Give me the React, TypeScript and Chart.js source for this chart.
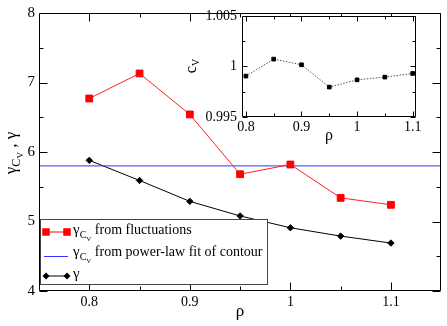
import React, { useEffect, useRef } from 'react';
import { Chart, registerables } from 'chart.js';

Chart.register(...registerables);

// ---- data ----
const rho = [0.8, 0.85, 0.9, 0.95, 1.0, 1.05, 1.1];
const gammaCvFluct = [6.77, 7.13, 6.54, 5.68, 5.82, 5.34, 5.24];
const gammaVals = [5.88, 5.59, 5.29, 5.08, 4.91, 4.79, 4.69];
const gammaCvFit = 5.8;
const cvVals = [0.99905, 1.00073, 1.00017, 0.99796, 0.99868, 0.99895, 0.99931];

const mainXTicks = [0.8, 0.9, 1.0, 1.1];
const mainXMinor = [0.85, 0.95, 1.05];
const mainYTicks = [4, 5, 6, 7, 8];
const mainYMinor = [4.5, 5.5, 6.5, 7.5];
const insetXTicks = [0.8, 0.9, 1.0, 1.1];
const insetXMinor = [0.85, 0.95, 1.05];
const insetYTicks = [0.995, 1.0, 1.005];
const insetYMinor = [0.9975, 1.0025];

const SERIF = '"Liberation Serif", "Times New Roman", serif';
const fmt = (v: number) => String(+Number(v).toFixed(4));

type Part = [string, number, number];

function richWidth(ctx: CanvasRenderingContext2D, parts: Part[]) {
  let w = 0;
  for (const [t, s] of parts) {
    ctx.font = `${s}px ${SERIF}`;
    w += ctx.measureText(t).width;
  }
  return w;
}
function drawRich(ctx: CanvasRenderingContext2D, parts: Part[], x: number, y: number) {
  let cx = x;
  ctx.textBaseline = 'alphabetic';
  ctx.textAlign = 'left';
  for (const [t, s, dy] of parts) {
    ctx.font = `${s}px ${SERIF}`;
    ctx.fillText(t, cx, y + dy);
    cx += ctx.measureText(t).width;
  }
}

function drawFrameTicks(chart: any, xMajor: number[], xMinor: number[], yMajor: number[], yMinor: number[], maj: number, min: number) {
  const ctx: CanvasRenderingContext2D = chart.ctx;
  const a = chart.chartArea;
  const xs = chart.scales.x;
  const ys = chart.scales.y;
  ctx.save();
  ctx.strokeStyle = '#000';
  ctx.lineWidth = 1;
  ctx.beginPath();
  const L = Math.round(a.left) + 0.5;
  const R = Math.round(a.right) - 0.5;
  const T = Math.round(a.top) + 0.5;
  const B = Math.round(a.bottom) - 0.5;
  ctx.rect(L, T, R - L, B - T);
  const xt = (vals: number[], len: number) => {
    for (const v of vals) {
      const px = Math.round(xs.getPixelForValue(v)) + 0.5;
      ctx.moveTo(px, B); ctx.lineTo(px, B - len);
      ctx.moveTo(px, T); ctx.lineTo(px, T + len);
    }
  };
  const yt = (vals: number[], len: number) => {
    for (const v of vals) {
      const py = Math.round(ys.getPixelForValue(v)) + 0.5;
      ctx.moveTo(L, py); ctx.lineTo(L + len, py);
      ctx.moveTo(R, py); ctx.lineTo(R - len, py);
    }
  };
  xt(xMajor, maj); xt(xMinor, min); yt(yMajor, maj); yt(yMinor, min);
  ctx.stroke();
  ctx.restore();
}

function drawSquare(ctx: CanvasRenderingContext2D, x: number, y: number, s: number, c: string) {
  ctx.fillStyle = c;
  ctx.fillRect(x - s / 2, y - s / 2, s, s);
}
function drawDiamond(ctx: CanvasRenderingContext2D, x: number, y: number, r: number, c: string) {
  ctx.fillStyle = c;
  ctx.beginPath();
  ctx.moveTo(x - r, y); ctx.lineTo(x, y - r); ctx.lineTo(x + r, y); ctx.lineTo(x, y + r);
  ctx.closePath();
  ctx.fill();
}

const mainPlugin = {
  id: 'mainDecor',
  afterDraw(chart: any) {
    const ctx: CanvasRenderingContext2D = chart.ctx;
    const a = chart.chartArea;
    drawFrameTicks(chart, mainXTicks, mainXMinor, mainYTicks, mainYMinor, 8, 4);
    ctx.save();
    ctx.fillStyle = '#000';
    // x title
    ctx.font = `17px ${SERIF}`;
    ctx.textAlign = 'center';
    ctx.textBaseline = 'alphabetic';
    ctx.fillText('ρ', (a.left + a.right) / 2, 316);
    // y title
    const yParts: Part[] = [['γ', 17, 0], ['C', 12, 4], ['V', 9, 7], [' , γ', 17, 0]];
    const w = richWidth(ctx, yParts);
    ctx.translate(16, (a.top + a.bottom) / 2 + 1);
    ctx.rotate(-Math.PI / 2);
    drawRich(ctx, yParts, -w / 2, 0);
    ctx.restore();

    // legend
    ctx.save();
    const lx = 40.5, ly = 219.5, lw = 227, lh = 65;
    ctx.fillStyle = '#fff';
    ctx.fillRect(lx, ly, lw, lh);
    ctx.strokeStyle = '#444';
    ctx.lineWidth = 1;
    ctx.strokeRect(lx, ly, lw, lh);
    const x0 = 46, x1 = 67;
    // row 1
    ctx.strokeStyle = '#ff0000';
    ctx.beginPath(); ctx.moveTo(x0, 232); ctx.lineTo(x1, 232); ctx.stroke();
    drawSquare(ctx, x0, 232, 7.5, '#ff0000');
    drawSquare(ctx, x1, 232, 7.5, '#ff0000');
    // row 2
    ctx.strokeStyle = '#3333ff';
    ctx.beginPath(); ctx.moveTo(x0 - 2, 256.5); ctx.lineTo(x1 + 1, 256.5); ctx.stroke();
    // row 3
    ctx.strokeStyle = '#000';
    ctx.beginPath(); ctx.moveTo(x0, 276); ctx.lineTo(x1, 276); ctx.stroke();
    drawDiamond(ctx, x0, 276, 3.5, '#000');
    drawDiamond(ctx, x1, 276, 3.5, '#000');
    ctx.fillStyle = '#000';
    drawRich(ctx, [['γ', 15, 0], ['C', 10, 4], ['V', 7, 7], [' from fluctuations', 14, 0]], 73, 234);
    drawRich(ctx, [['γ', 15, 0], ['C', 10, 4], ['V', 7, 7], [' from power-law fit of contour', 14, 0]], 73, 256);
    drawRich(ctx, [['γ', 15, 0]], 73, 278);
    ctx.restore();
  },
};

const insetPlugin = {
  id: 'insetDecor',
  afterDraw(chart: any) {
    const ctx: CanvasRenderingContext2D = chart.ctx;
    const a = chart.chartArea;
    drawFrameTicks(chart, insetXTicks, insetXMinor, insetYTicks, insetYMinor, 5, 3);
    ctx.save();
    ctx.fillStyle = '#000';
    ctx.font = `16px ${SERIF}`;
    ctx.textAlign = 'center';
    ctx.textBaseline = 'alphabetic';
    ctx.fillText('ρ', (a.left + a.right) / 2, 140);
    const parts: Part[] = [['c', 16, 0], ['V', 10, 3]];
    const w = richWidth(ctx, parts);
    ctx.translate(16, 66);
    ctx.rotate(-Math.PI / 2);
    drawRich(ctx, parts, -w / 2, 0);
    ctx.restore();
  },
};

const insetBg = {
  id: 'insetBg',
  beforeDraw(chart: any) {
    const a = chart.chartArea;
    const ctx = chart.ctx;
    ctx.save();
    ctx.fillStyle = '#fff';
    ctx.fillRect(a.left, a.top, a.right - a.left, a.bottom - a.top);
    ctx.restore();
  },
};

function makeScale(min: number, max: number, ticks: number[], size: number, pad: number, fit: (s: any) => void) {
  return {
    type: 'linear',
    min,
    max,
    grid: { display: false, drawTicks: false },
    border: { display: false },
    ticks: {
      color: '#000',
      font: { family: SERIF, size },
      padding: pad,
      autoSkip: false,
      maxRotation: 0,
      callback: (v: any) => fmt(v),
    },
    afterBuildTicks: (s: any) => {
      s.ticks = ticks.map((v) => ({ value: v }));
    },
    afterFit: fit,
  };
}

export default function App() {
  const mainRef = useRef<HTMLCanvasElement>(null);
  const insetRef = useRef<HTMLCanvasElement>(null);

  useEffect(() => {
    document.body.style.margin = '0';
    const main = new Chart(mainRef.current as HTMLCanvasElement, {
      type: 'line',
      data: {
        datasets: [
          {
            label: 'fluct',
            data: rho.map((x, i) => ({ x, y: gammaCvFluct[i] })),
            borderColor: '#ff2020',
            backgroundColor: '#ff0000',
            borderWidth: 1,
            pointStyle: 'rect',
            pointRadius: 4.8,
            pointBorderWidth: 1,
            pointBorderColor: '#ff0000',
          },
          {
            label: 'fit',
            data: [{ x: 0.75, y: gammaCvFit }, { x: 1.15, y: gammaCvFit }],
            borderColor: '#3333ff',
            borderWidth: 1,
            pointRadius: 0,
          },
          {
            label: 'gamma',
            data: rho.map((x, i) => ({ x, y: gammaVals[i] })),
            borderColor: '#000',
            backgroundColor: '#000',
            borderWidth: 1,
            pointStyle: 'rectRot',
            pointRadius: 3.2,
            pointBorderWidth: 1,
            pointBorderColor: '#000',
          },
        ],
      } as any,
      options: {
        responsive: false,
        animation: false,
        devicePixelRatio: 1,
        layout: { padding: { top: 9, right: 5, left: 0, bottom: 0 } },
        plugins: { legend: { display: false }, tooltip: { enabled: false } },
        scales: {
          x: makeScale(0.75, 1.15, mainXTicks, 14, 3, (s: any) => { s.height = 35; }),
          y: makeScale(4, 8, mainYTicks, 15, 4, (s: any) => { s.width = 39; }),
        } as any,
      },
      plugins: [mainPlugin],
    });

    const inset = new Chart(insetRef.current as HTMLCanvasElement, {
      type: 'line',
      data: {
        datasets: [
          {
            label: 'cv',
            data: rho.map((x, i) => ({ x, y: cvVals[i] })),
            borderColor: '#555',
            backgroundColor: '#000',
            borderWidth: 1,
            borderDash: [1.5, 1.5],
            pointStyle: 'rect',
            pointRadius: 2.6,
            pointBorderWidth: 1,
            pointBorderColor: '#000',
          },
        ],
      } as any,
      options: {
        responsive: false,
        animation: false,
        devicePixelRatio: 1,
        layout: { padding: { top: 16, right: 14, left: 0, bottom: 0 } },
        plugins: { legend: { display: false }, tooltip: { enabled: false } },
        scales: {
          x: makeScale(0.793, 1.106, insetXTicks, 14, 2, (s: any) => { s.height = 33; }),
          y: makeScale(0.995, 1.005, insetYTicks, 14, 5, (s: any) => { s.width = 62; }),
        } as any,
      },
      plugins: [insetBg, insetPlugin],
    });

    return () => {
      main.destroy();
      inset.destroy();
    };
  }, []);

  return (
    <div style={{ position: 'relative', width: 447, height: 326, background: '#fff' }}>
      <canvas ref={mainRef} width={447} height={326} style={{ position: 'absolute', left: 0, top: 0 }} />
      <canvas ref={insetRef} width={250} height={150} style={{ position: 'absolute', left: 180, top: 0 }} />
    </div>
  );
}
